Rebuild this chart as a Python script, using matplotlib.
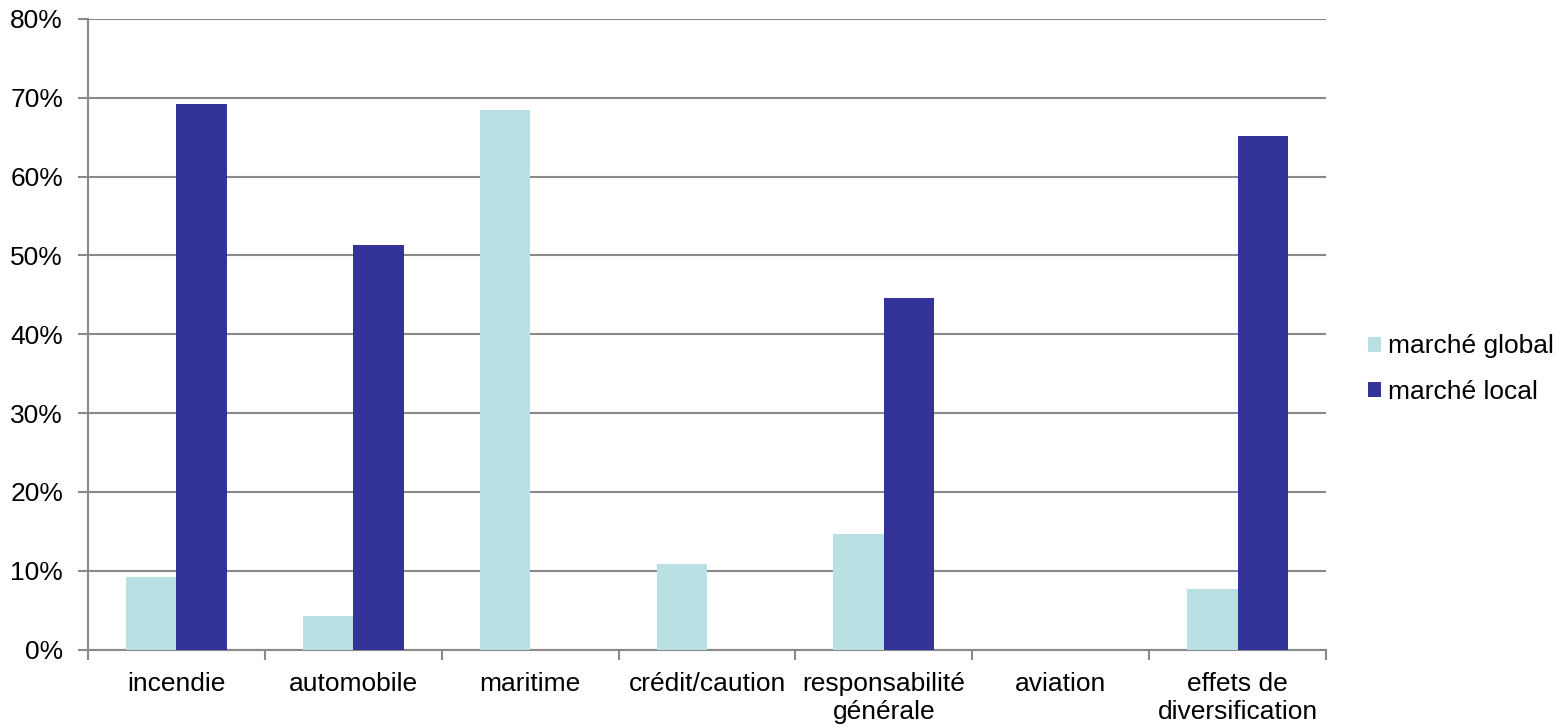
import matplotlib
matplotlib.use("Agg")
import matplotlib.pyplot as plt
from matplotlib.ticker import FuncFormatter, FixedLocator
from matplotlib.patches import Patch
import numpy as np

categories = ["incendie", "automobile", "maritime", "crédit/caution",
              "responsabilité\ngénérale", "aviation", "effets de\ndiversification"]
marche_global = [9.2, 4.3, 68.4, 10.9, 14.7, 0.0, 7.7]
marche_local = [69.2, 51.3, 0.0, 0.0, 44.6, 0.0, 65.2]
series_names = ["marché global", "marché local"]
yticks = [0, 10, 20, 30, 40, 50, 60, 70, 80]

col_global = "#B9E0E3"
col_local = "#343397"
grid_col = "#898989"
fs = 19

plt.rcParams["font.family"] = ["Liberation Sans", "DejaVu Sans"]
fig = plt.figure(figsize=(15.67, 7.28), dpi=100)
W, H = 1567, 728
ax = fig.add_axes([88 / W, 1 - 649.5 / H, (1326 - 88) / W, (649.5 - 19) / H])

x = np.arange(len(categories))
bw = 0.285
ax.bar(x - bw / 2, marche_global, bw, color=col_global, zorder=3)
ax.bar(x + bw / 2, marche_local, bw, color=col_local, zorder=3)

ax.set_xlim(-0.5, len(categories) - 0.5)
ax.set_ylim(0, 80)
ax.set_yticks(yticks)
ax.yaxis.set_major_formatter(FuncFormatter(lambda v, p: f"{v:.0f}%"))
ax.yaxis.grid(True, color=grid_col, linewidth=1.5, zorder=0)

ax.xaxis.set_major_locator(FixedLocator(np.arange(-0.5, len(categories), 1.0)))
ax.xaxis.set_major_formatter(FuncFormatter(lambda v, p: ""))
ax.xaxis.set_minor_locator(FixedLocator(x))
ax.set_xticklabels(categories, minor=True)

for s in ["top", "right"]:
    ax.spines[s].set_visible(False)
for s in ["left", "bottom"]:
    ax.spines[s].set_color(grid_col)
    ax.spines[s].set_linewidth(1.5)

ax.tick_params(axis="y", which="major", length=7, width=1.5, color=grid_col,
               labelsize=fs, pad=11)
ax.tick_params(axis="x", which="major", length=7, width=1.5, color=grid_col)
ax.tick_params(axis="x", which="minor", length=0, labelsize=fs, pad=16)
for lbl in ax.get_xticklabels(minor=True):
    lbl.set_linespacing(1.2)

handles = [Patch(facecolor=col_global, label=series_names[0]),
           Patch(facecolor=col_local, label=series_names[1])]
fig.legend(handles=handles, loc="center left", bbox_to_anchor=(1368 / W, 1 - 369 / H),
           frameon=False, fontsize=fs, handlelength=0.5, handleheight=0.5,
           handletextpad=0.25, labelspacing=0.8, borderaxespad=0, borderpad=0)

fig.savefig("out.png", dpi=100, facecolor="white")
